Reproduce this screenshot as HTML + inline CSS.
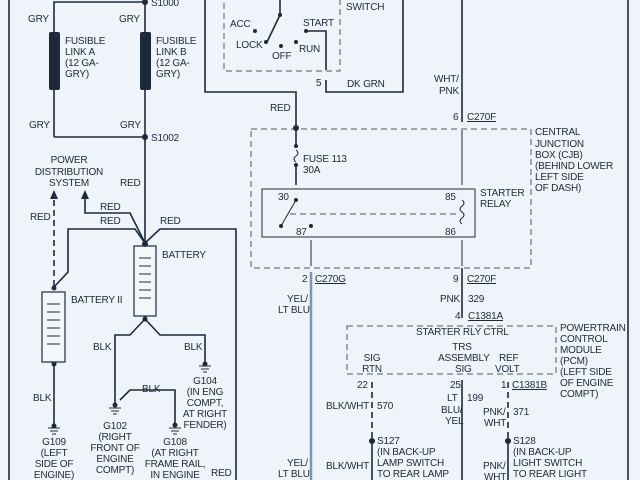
<!DOCTYPE html>
<html><head><meta charset="utf-8"><style>
html,body{margin:0;padding:0;background:#eef4f9;}
svg{display:block;}
text{font-family:"Liberation Sans",sans-serif;font-size:10px;fill:#1d2a3c;letter-spacing:-0.2px;}
</style></head><body>
<svg width="640" height="480" viewBox="0 0 640 480" xmlns="http://www.w3.org/2000/svg">
<rect width="640" height="480" fill="#eef4f9"/>
<g stroke="#1d2a3c" fill="none" stroke-width="1.6">
<line x1="9" y1="0" x2="9" y2="480"/>
<line x1="628" y1="0" x2="628" y2="480"/>
<polyline points="54,137 54,2 145,2"/>
<line x1="145" y1="2" x2="145" y2="245"/>
<line x1="54" y1="137" x2="145" y2="137"/>
<polyline points="85,196 85,213 130,213 145,243"/>
<polyline points="54,287 68,272 68,229 135,229 145,243"/>
<polyline points="145,243 160,229 236,229 236,480"/>
<rect x="134" y="246" width="22" height="70" fill="#f4f7fa" stroke-width="1.2"/>
<rect x="42" y="292" width="23" height="70" fill="#f4f7fa" stroke-width="1.2"/>
<polyline points="145,319 130,335 115,335 115,405"/>
<polyline points="145,319 160,335 205,335 205,363"/>
<polyline points="120,400 130,390 175,390 175,424"/>
<line x1="54" y1="364" x2="54" y2="424"/>
<polyline points="205,0 205,92 296,92 296,128"/>
<polyline points="326,80 326,92 403,92 403,0"/>
<line x1="296" y1="128" x2="296" y2="146"/>
<line x1="296" y1="165" x2="296" y2="185"/>
<line x1="462" y1="0" x2="462" y2="122"/>
<line x1="462" y1="268" x2="462" y2="318"/>
<line x1="462" y1="380" x2="462" y2="480"/>
<line x1="372" y1="441" x2="372" y2="480"/>
<line x1="508" y1="441" x2="508" y2="480"/>
<line x1="280" y1="0" x2="280" y2="15"/>
<line x1="280" y1="15" x2="267" y2="42"/>
<polyline points="306,31 326,31 326,70"/>
</g>
<g stroke="#1d2a3c" fill="none" stroke-width="1">
<line x1="311" y1="240" x2="311" y2="266"/>
<line x1="462" y1="130" x2="462" y2="185"/>
<line x1="462" y1="240" x2="462" y2="266"/>
<rect x="262" y="189" width="213" height="48"/>
<line x1="296" y1="200" x2="281" y2="226"/>
<path d="M296,150 q4,3 0,6 q-4,3 0,6"/>
<path d="M462,200 q4,3 0,6 q-4,3 0,6 q4,3 0,6 q-4,3 0,6"/>
</g>
<line x1="311" y1="272" x2="311" y2="480" stroke="#8096b0" stroke-width="2.5"/>
<g stroke="#556" fill="none" stroke-width="1" stroke-dasharray="6,4">
<rect x="224" y="-5" width="116" height="76"/>
<rect x="251" y="129" width="280" height="139"/>
<line x1="290" y1="214" x2="460" y2="214"/>
<rect x="347" y="326" width="209" height="48"/>
</g>
<g stroke="#1d2a3c" stroke-width="1.6" stroke-dasharray="6,4" fill="none">
<line x1="54" y1="200" x2="54" y2="287"/>
<line x1="372" y1="382" x2="372" y2="440"/>
<line x1="508" y1="382" x2="508" y2="440"/>
</g>
<rect x="49" y="32" width="11" height="58" rx="2" fill="#1d2a3c"/>
<rect x="140" y="32" width="11" height="58" rx="2" fill="#1d2a3c"/>
<g fill="#1d2a3c">
<circle cx="145" cy="2" r="3"/><circle cx="145" cy="137" r="3"/>
<circle cx="296" cy="128" r="3"/><circle cx="372" cy="441" r="3"/><circle cx="508" cy="441" r="3"/>
<circle cx="145" cy="244" r="3"/><circle cx="145" cy="319" r="2.5"/><circle cx="54" cy="288" r="2.5"/><circle cx="54" cy="364" r="2.5"/>
<circle cx="280" cy="15" r="2"/><circle cx="255" cy="31" r="2"/><circle cx="266" cy="42" r="2"/><circle cx="281" cy="46" r="2"/><circle cx="296" cy="42" r="2"/><circle cx="306" cy="31" r="2"/>
<circle cx="296" cy="146" r="2"/><circle cx="296" cy="165" r="2"/><circle cx="296" cy="200" r="2"/><circle cx="281" cy="226" r="2"/><circle cx="311" cy="226" r="2"/>
<polygon points="54,190 50,199 58,199"/><polygon points="85,190 81,199 89,199"/>
</g>
<g stroke="#1d2a3c" stroke-width="1">
<line x1="139" y1="258" x2="151" y2="258"/><line x1="139" y1="266" x2="151" y2="266"/><line x1="139" y1="274" x2="151" y2="274"/><line x1="139" y1="282" x2="151" y2="282"/><line x1="139" y1="290" x2="151" y2="290"/><line x1="139" y1="298" x2="151" y2="298"/>
<line x1="47" y1="304" x2="60" y2="304"/><line x1="47" y1="312" x2="60" y2="312"/><line x1="47" y1="320" x2="60" y2="320"/><line x1="47" y1="328" x2="60" y2="328"/><line x1="47" y1="336" x2="60" y2="336"/><line x1="47" y1="344" x2="60" y2="344"/>
<path d="M48,428h12M50,431h8M52,434h4M54,424v4"/>
<path d="M109,408h12M111,411h8M113,414h4"/>
<path d="M169,428h12M171,431h8M173,434h4"/>
<path d="M199,366h12M201,369h8M203,372h4"/>
</g>
<g fill="#1d2a3c"><circle cx="54" cy="426" r="2.5"/><circle cx="115" cy="405" r="2.5"/><circle cx="175" cy="425" r="2.5"/><circle cx="205" cy="364" r="2.5"/></g>
<text x="28" y="22">GRY</text><text x="119" y="22">GRY</text>
<text x="29" y="128">GRY</text><text x="120" y="128">GRY</text>
<text x="151" y="6">S1000</text><text x="151" y="141">S1002</text>
<text x="65" y="44">FUSIBLE</text><text x="65" y="55">LINK A</text><text x="65" y="66">(12 GA-</text><text x="65" y="77">GRY)</text>
<text x="156" y="44">FUSIBLE</text><text x="156" y="55">LINK B</text><text x="156" y="66">(12 GA-</text><text x="156" y="77">GRY)</text>
<text x="69" y="163" text-anchor="middle">POWER</text><text x="69" y="175" text-anchor="middle">DISTRIBUTION</text><text x="69" y="186" text-anchor="middle">SYSTEM</text>
<text x="120" y="186">RED</text><text x="30" y="220">RED</text><text x="100" y="210">RED</text><text x="100" y="224">RED</text><text x="160" y="224">RED</text>
<text x="162" y="258">BATTERY</text><text x="71" y="303">BATTERY II</text>
<text x="93" y="350">BLK</text><text x="184" y="350">BLK</text><text x="142" y="392">BLK</text><text x="33" y="401">BLK</text>
<text x="54" y="445" text-anchor="middle">G109</text><text x="54" y="456" text-anchor="middle">(LEFT</text><text x="54" y="467" text-anchor="middle">SIDE OF</text><text x="54" y="478" text-anchor="middle">ENGINE)</text>
<text x="115" y="429" text-anchor="middle">G102</text><text x="115" y="440" text-anchor="middle">(RIGHT</text><text x="115" y="451" text-anchor="middle">FRONT OF</text><text x="115" y="462" text-anchor="middle">ENGINE</text><text x="115" y="473" text-anchor="middle">COMPT)</text>
<text x="175" y="445" text-anchor="middle">G108</text><text x="175" y="456" text-anchor="middle">(AT RIGHT</text><text x="175" y="467" text-anchor="middle">FRAME RAIL,</text><text x="175" y="478" text-anchor="middle">IN ENGINE</text>
<text x="205" y="384" text-anchor="middle">G104</text><text x="205" y="395" text-anchor="middle">(IN ENG</text><text x="205" y="406" text-anchor="middle">COMPT,</text><text x="205" y="417" text-anchor="middle">AT RIGHT</text><text x="205" y="428" text-anchor="middle">FENDER)</text>
<text x="211" y="476">RED</text>
<text x="230" y="27">ACC</text><text x="236" y="48">LOCK</text><text x="272" y="59">OFF</text><text x="299" y="52">RUN</text><text x="303" y="26">START</text><text x="346" y="10">SWITCH</text>
<text x="316" y="86">5</text><text x="347" y="87">DK GRN</text>
<text x="270" y="111">RED</text>
<text x="434" y="82">WHT/</text><text x="439" y="94">PNK</text>
<text x="453" y="120">6</text><text x="467" y="120" text-decoration="underline">C270F</text>
<text x="303" y="162">FUSE 113</text><text x="303" y="173">30A</text>
<text x="278" y="200">30</text><text x="445" y="200">85</text><text x="296" y="235">87</text><text x="445" y="235">86</text>
<text x="480" y="196">STARTER</text><text x="480" y="207">RELAY</text>
<text x="535" y="135">CENTRAL</text><text x="535" y="147">JUNCTION</text><text x="535" y="158">BOX (CJB)</text><text x="535" y="169">(BEHIND LOWER</text><text x="535" y="180">LEFT SIDE</text><text x="535" y="191">OF DASH)</text>
<text x="302" y="282">2</text><text x="315" y="282" text-decoration="underline">C270G</text>
<text x="453" y="282">9</text><text x="467" y="282" text-decoration="underline">C270F</text>
<text x="287" y="302">YEL/</text><text x="278" y="313">LT BLU</text>
<text x="440" y="302">PNK</text><text x="468" y="302">329</text>
<text x="455" y="319">4</text><text x="468" y="319" text-decoration="underline">C1381A</text>
<text x="416" y="335">STARTER RLY CTRL</text>
<text x="462" y="350" text-anchor="middle">TRS</text><text x="438" y="361">ASSEMBLY</text><text x="455" y="372">SIG</text>
<text x="372" y="361" text-anchor="middle">SIG</text><text x="372" y="372" text-anchor="middle">RTN</text>
<text x="499" y="361">REF</text><text x="495" y="372">VOLT</text>
<text x="560" y="331">POWERTRAIN</text><text x="560" y="342">CONTROL</text><text x="560" y="353">MODULE</text><text x="560" y="364">(PCM)</text><text x="560" y="375">(LEFT SIDE</text><text x="560" y="386">OF ENGINE</text><text x="560" y="397">COMPT)</text>
<text x="357" y="388">22</text><text x="450" y="388">25</text><text x="501" y="388">1</text><text x="512" y="388" text-decoration="underline">C1381B</text>
<text x="326" y="409">BLK/WHT</text><text x="377" y="409">570</text>
<text x="447" y="401">LT</text><text x="441" y="413">BLU/</text><text x="445" y="424">YEL</text><text x="467" y="401">199</text>
<text x="483" y="415">PNK/</text><text x="484" y="426">WHT</text><text x="513" y="415">371</text>
<text x="377" y="444">S127</text><text x="377" y="455">(IN BACK-UP</text><text x="377" y="466">LAMP SWITCH</text><text x="377" y="477">TO REAR LAMP</text>
<text x="513" y="444">S128</text><text x="513" y="455">(IN BACK-UP</text><text x="513" y="466">LIGHT SWITCH</text><text x="513" y="477">TO REAR LIGHT</text>
<text x="326" y="469">BLK/WHT</text><text x="483" y="469">PNK/</text><text x="484" y="480">WHT</text>
<text x="287" y="466">YEL/</text><text x="278" y="477">LT BLU</text>
</svg>
</body></html>
